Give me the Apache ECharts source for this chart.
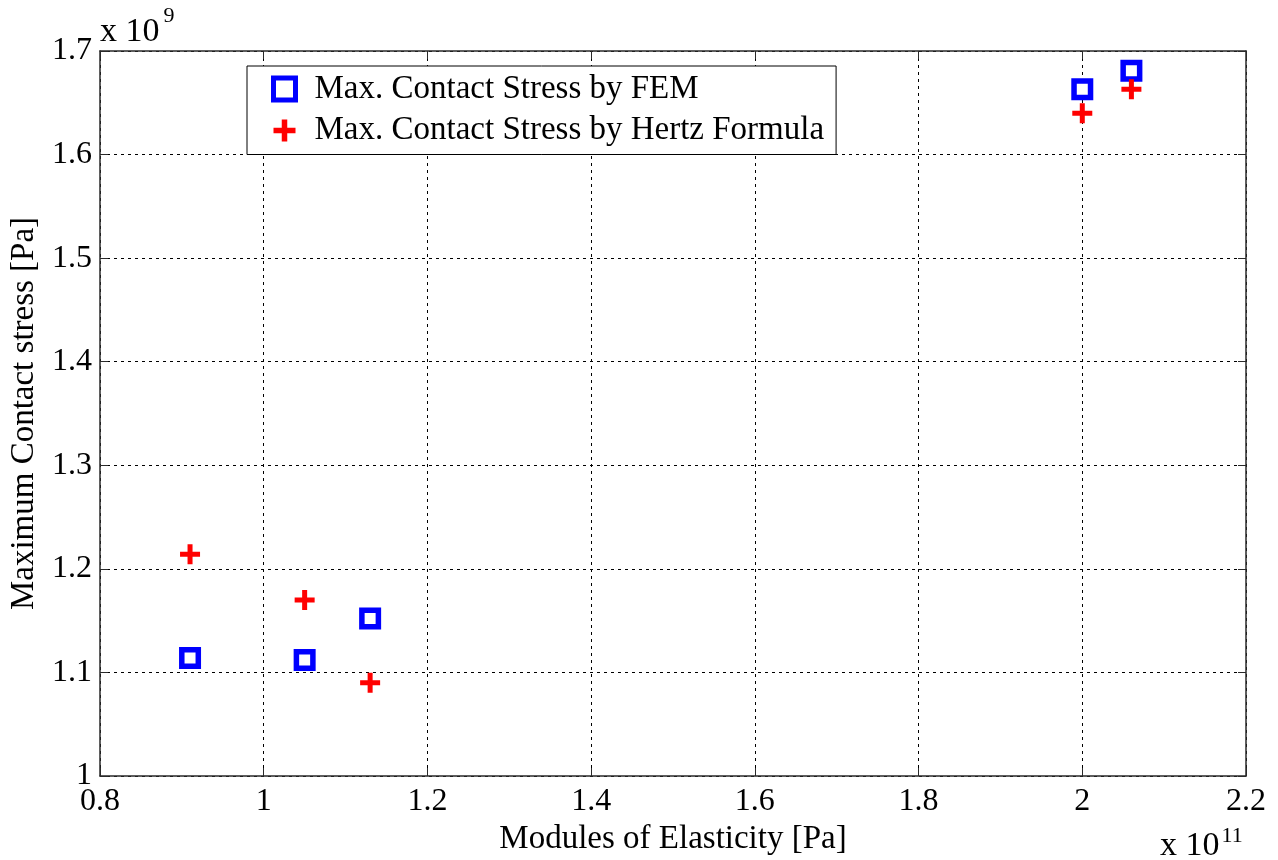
<!DOCTYPE html>
<html>
<head>
<meta charset="utf-8">
<script src="https://cdn.jsdelivr.net/npm/echarts@6/dist/echarts.min.js"></script>
<style>
  html, body { margin: 0; padding: 0; background: #fff; }
  #chart { width: 1278px; height: 860px; }
</style>
</head>
<body>
<div id="chart"></div>
<script>
// Modulus of elasticity (x 10^11 Pa)
const modulus = [0.91, 1.05, 1.13, 2.00, 2.06];
// Maximum contact stress (x 10^9 Pa)
const femStress = [1.114, 1.112, 1.152, 1.663, 1.681];
const hertzStress = [1.214, 1.170, 1.090, 1.640, 1.663];
const seriesNames = ['Max. Contact Stress by FEM', 'Max. Contact Stress by Hertz Formula'];
const xTicks = { min: 0.8, max: 2.2, step: 0.2 };
const yTicks = { min: 1.0, max: 1.7, step: 0.1 };

const FONT = '"Liberation Serif", "Times New Roman", serif';
const pairs = (xs, ys) => xs.map((x, i) => [x, ys[i]]);
const fmt = v => {
  const r = Math.round(v * 10) / 10;
  return Number.isInteger(r) ? String(r) : r.toFixed(1);
};

const plusPath = 'path://M7.5 0H12.5V7.5H20V12.5H12.5V20H7.5V12.5H0V7.5H7.5Z';

const gridLine = { show: true, lineStyle: { color: '#000', width: 1, type: [3, 4] } };
const frameLine = { show: true, onZero: false, lineStyle: { color: '#2a2a2a', width: 1.5 } };
const innerTick = { show: true, inside: true, length: 8, lineStyle: { color: '#2a2a2a', width: 1 } };

function xAxisDef(position, labels) {
  return {
    type: 'value', position,
    min: xTicks.min, max: xTicks.max, interval: xTicks.step,
    axisLine: frameLine, axisTick: innerTick,
    splitLine: position === 'bottom' ? gridLine : { show: false },
    axisLabel: labels ? {
      show: true, color: '#000', fontFamily: FONT, fontSize: 32, margin: 10,
      formatter: fmt
    } : { show: false },
    name: labels ? 'Modules of Elasticity [Pa]' : '',
    nameLocation: 'middle', nameGap: 43,
    nameTextStyle: { color: '#000', fontFamily: FONT, fontSize: 33 }
  };
}
function yAxisDef(position, labels) {
  return {
    type: 'value', position,
    min: yTicks.min, max: yTicks.max, interval: yTicks.step,
    axisLine: frameLine, axisTick: innerTick,
    splitLine: position === 'left' ? gridLine : { show: false },
    axisLabel: labels ? {
      show: true, color: '#000', fontFamily: FONT, fontSize: 32, margin: 8,
      formatter: fmt
    } : { show: false },
    name: labels ? 'Maximum Contact stress [Pa]' : '',
    nameLocation: 'middle', nameGap: 53,
    nameTextStyle: { color: '#000', fontFamily: FONT, fontSize: 33 }
  };
}

const chart = echarts.init(document.getElementById('chart'), null, { renderer: 'canvas' });
chart.setOption({
  animation: false,
  backgroundColor: '#fff',
  grid: { left: 100, right: 32, top: 51, bottom: 84, containLabel: false, outerBoundsMode: 'none' },
  xAxis: [xAxisDef('bottom', true), xAxisDef('top', false)],
  yAxis: [yAxisDef('left', true), yAxisDef('right', false)],
  legend: {
    orient: 'vertical',
    left: 247, top: 66,
    padding: [6, 12, 7, 24],
    itemGap: 7.5,
    itemWidth: 22, itemHeight: 22,
    backgroundColor: '#fff',
    borderColor: '#000', borderWidth: 1,
    textStyle: { color: '#000', fontFamily: FONT, fontSize: 33, lineHeight: 34, padding: [0, 0, 0, 14] },
    data: [
      { name: seriesNames[0], icon: 'rect', itemStyle: { color: '#fff', borderColor: '#0000ff', borderWidth: 5 } },
      { name: seriesNames[1], icon: plusPath, itemStyle: { color: '#ff0000' } }
    ]
  },
  graphic: [
    {
      type: 'text', left: 100, top: 5,
      style: {
        text: '{b|x 10}{s|9}',
        rich: {
          b: { fontFamily: FONT, fontSize: 34, fill: '#000', verticalAlign: 'bottom', lineHeight: 44 },
          s: { fontFamily: FONT, fontSize: 22, fill: '#000', verticalAlign: 'top', lineHeight: 44, padding: [0, 0, 20, 4] }
        }
      }
    },
    {
      type: 'text', left: 1160, top: 825,
      style: {
        text: '{b|x 10}{s|11}',
        rich: {
          b: { fontFamily: FONT, fontSize: 34, fill: '#000', lineHeight: 44 },
          s: { fontFamily: FONT, fontSize: 22, fill: '#000', lineHeight: 44, padding: [0, 0, 20, 2] }
        }
      }
    }
  ],
  series: [
    {
      name: seriesNames[0],
      type: 'scatter',
      symbol: 'rect',
      symbolSize: 16.5,
      itemStyle: { color: '#fff', borderColor: '#0000ff', borderWidth: 5.5, opacity: 1 },
      data: pairs(modulus, femStress),
      z: 3
    },
    {
      name: seriesNames[1],
      type: 'scatter',
      symbol: plusPath,
      symbolSize: 20,
      itemStyle: { color: '#ff0000', opacity: 1 },
      data: pairs(modulus, hertzStress),
      z: 4
    }
  ]
});
</script>
</body>
</html>
